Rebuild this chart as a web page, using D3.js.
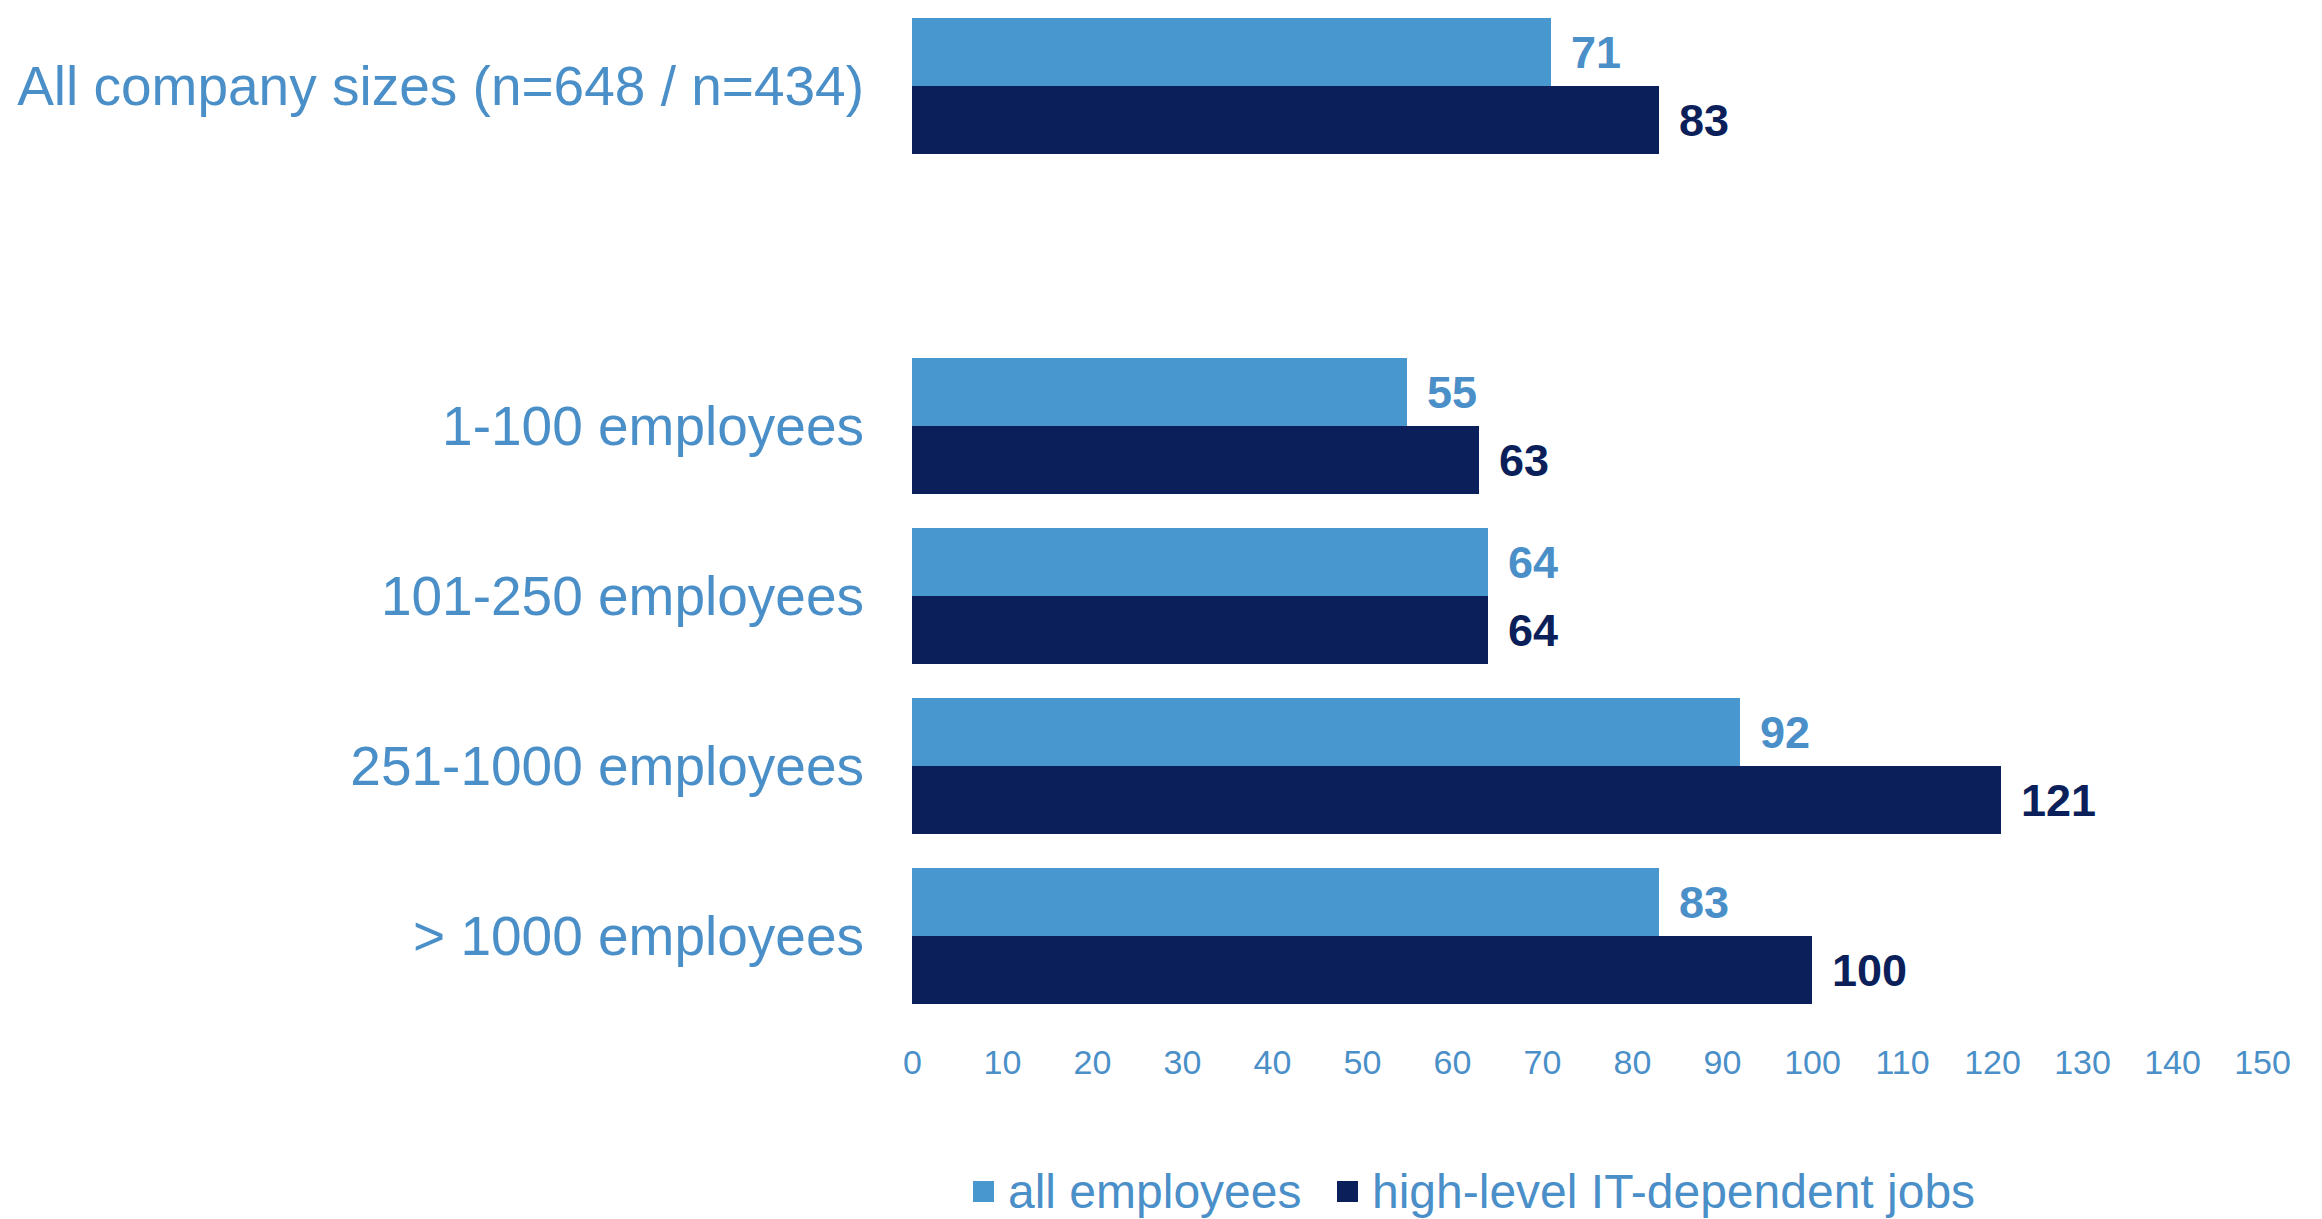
<!DOCTYPE html>
<html>
<head>
<meta charset="utf-8">
<script src="https://cdn.jsdelivr.net/npm/d3@7"></script>
<style>
  body { margin: 0; background: #fff; }
  svg { display: block; font-family: "Liberation Sans", Arial, sans-serif; }
</style>
</head>
<body>
<script>
var categories = ["All company sizes (n=648 / n=434)", "1-100 employees", "101-250 employees", "251-1000 employees", "> 1000 employees"];
var allEmployees = [71, 55, 64, 92, 83];
var itJobs = [83, 63, 64, 121, 100];
var seriesNames = ["all employees", "high-level IT-dependent jobs"];
var tickValues = [0, 10, 20, 30, 40, 50, 60, 70, 80, 90, 100, 110, 120, 130, 140, 150];

var width = 2322, height = 1219;
var lightBlue = "#4897cf", darkBlue = "#0b1f5a", labelBlue = "#4a8fc8";

// one empty slot between the total and the size classes
var slots = [categories[0], "__gap__"].concat(categories.slice(1));

var svg = d3.select("body").append("svg")
    .attr("width", width)
    .attr("height", height);

var x = d3.scaleLinear().domain([0, 150]).range([912, 2262]);

var y = d3.scaleBand()
    .domain(slots)
    .range([1, 1021])
    .paddingInner(0.2)
    .paddingOuter(0.1);

var ySub = d3.scaleBand().domain([0, 1]).range([0, y.bandwidth()]);

var colors = [lightBlue, darkBlue];
var rows = categories.map(function(c, i) {
  return {cat: c, values: [allEmployees[i], itJobs[i]]};
});

var groups = svg.selectAll("g.row")
    .data(rows)
  .enter().append("g")
    .attr("class", "row")
    .attr("transform", function(d) { return "translate(0," + y(d.cat) + ")"; });

groups.selectAll("rect")
    .data(function(d) { return d.values; })
  .enter().append("rect")
    .attr("x", x(0))
    .attr("y", function(d, i) { return ySub(i); })
    .attr("width", function(d) { return x(d) - x(0); })
    .attr("height", ySub.bandwidth())
    .attr("fill", function(d, i) { return colors[i]; });

groups.selectAll("text.val")
    .data(function(d) { return d.values; })
  .enter().append("text")
    .attr("class", "val")
    .attr("x", function(d) { return x(d) + 20; })
    .attr("y", function(d, i) { return ySub(i) + ySub.bandwidth() / 2 + 16; })
    .attr("fill", function(d, i) { return i === 0 ? labelBlue : darkBlue; })
    .style("font-size", "45px")
    .style("font-weight", "bold")
    .text(function(d) { return d; });

// category labels
groups.append("text")
    .attr("x", 864)
    .attr("y", y.bandwidth() / 2 + 19)
    .attr("text-anchor", "end")
    .attr("fill", labelBlue)
    .style("font-size", "55px")
    .text(function(d) { return d.cat; });

// x axis, labels only
var axis = svg.append("g")
    .attr("transform", "translate(0,1045)")
    .call(d3.axisBottom(x).tickValues(tickValues).tickSize(0).tickPadding(5));
axis.select(".domain").remove();
axis.selectAll("text")
    .attr("fill", labelBlue)
    .style("font-size", "34px")
    .style("font-family", "Liberation Sans, Arial, sans-serif");

// legend
var legendX = [973, 1337];
var legend = svg.selectAll("g.legend")
    .data(seriesNames)
  .enter().append("g")
    .attr("class", "legend")
    .attr("transform", function(d, i) { return "translate(" + legendX[i] + ",1181)"; });

legend.append("rect")
    .attr("width", 21)
    .attr("height", 21)
    .attr("fill", function(d, i) { return colors[i]; });

legend.append("text")
    .attr("x", 35)
    .attr("y", 27)
    .attr("fill", labelBlue)
    .style("font-size", "48px")
    .text(function(d) { return d; });
</script>
</body>
</html>
